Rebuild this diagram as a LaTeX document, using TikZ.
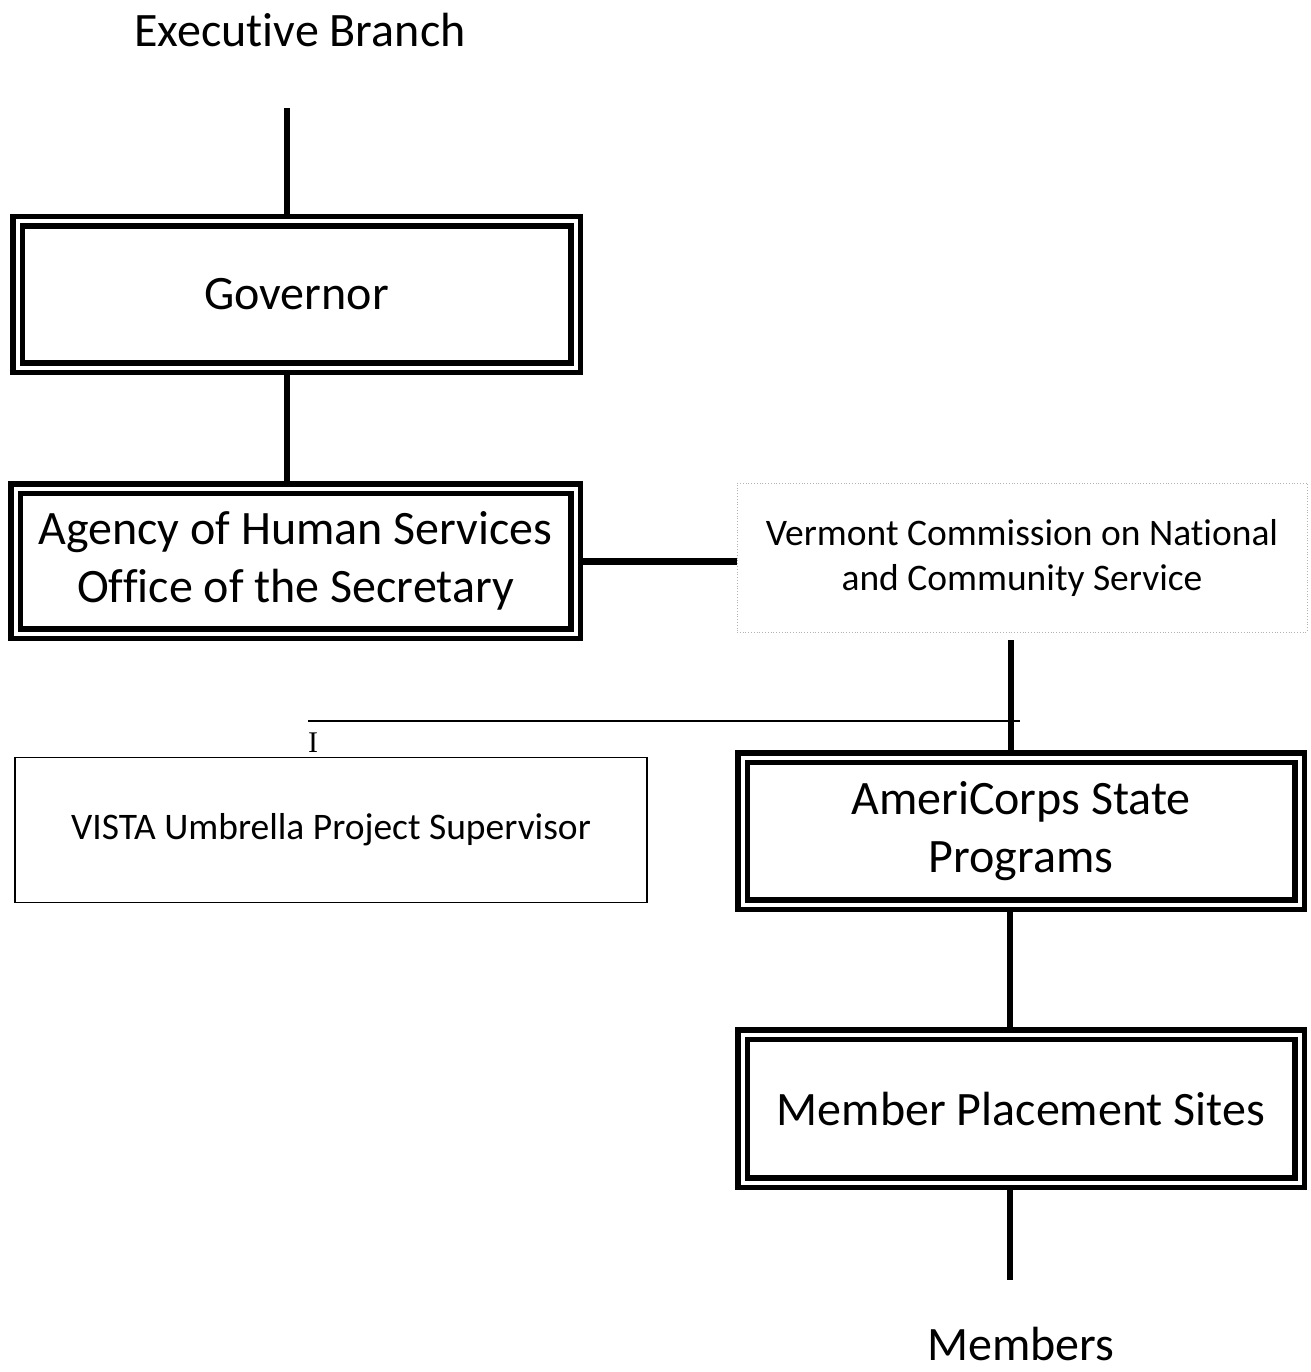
\documentclass[tikz,border=0pt]{standalone}
\usepackage{fontspec}
\setmainfont{Carlito}[RawFeature={-liga;-clig;-dlig;-calt}]
\newfontfamily\serifI{Liberation Serif}
\begin{document}
\begin{tikzpicture}[x=1pt,y=-1pt,
  dbox/.style={draw, double, line width=5.5pt, double distance=4pt,
    minimum width=558pt, minimum height=146pt, outer sep=7.5pt, inner sep=0pt,
    align=center, font=\fontsize{48}{58}\selectfont},
  tbox/.style={draw, line width=1.3pt, minimum width=632pt, minimum height=145pt,
    outer sep=0pt, inner sep=0pt, align=center, font=\fontsize{37.5}{45}\selectfont},
  fbox/.style={draw=black!30, dotted, line width=0.8pt, minimum width=570pt, minimum height=149pt,
    outer sep=0pt, inner sep=0pt, align=center, font=\fontsize{37.5}{45}\selectfont},
  label/.style={inner sep=0pt, font=\fontsize{48}{58}\selectfont},
  conn/.style={line width=6pt},
  thin/.style={line width=1.3pt}]
\useasboundingbox (0,0) rectangle (1310,1372);

% nodes
\node[label] (exec) at (300,30) {Executive Branch};
\node[dbox] (gov) at (296.5,294.5) {Governor};
\node[dbox, minimum width=560pt, minimum height=145pt] (ahs) at (295.5,561)
  {Agency of Human Services\\Office of the Secretary};
\node[fbox] (vcn) at (1022,557.5) {Vermont Commission on National\\and Community Service};
\node[tbox] (vista) at (331,830) {VISTA Umbrella Project Supervisor};
\node[dbox, minimum width=557pt, minimum height=147pt] (acs) at (1021,831)
  {AmeriCorps State\\Programs};
\node[dbox, minimum width=557pt, minimum height=148pt] (mps) at (1021,1108.5)
  {Member Placement Sites};
\node[label] (mem) at (1021,1344) {Members};
\node[inner sep=0pt, font=\serifI\fontsize{30}{36}\selectfont] (cur) at (313,743) {I};

% coordinates
\coordinate (e1) at (287,108);
\coordinate (v1) at (1011,640);
\coordinate (m1) at (1010,1280);
\coordinate (h1) at (308,721);
\coordinate (h2) at (1020,721);

% connectors
\draw[conn] (e1) -- (e1 |- gov.north);
\draw[conn] (gov.south -| e1) -- (ahs.north -| e1);
\draw[line width=7pt] (ahs.east) -- (ahs.east -| vcn.west);
\draw[line width=5.5pt] (v1) -- (v1 |- acs.north);
\draw[thin] (h1) -- (h2);
\draw[conn] (acs.south -| m1) -- (mps.north -| m1);
\draw[conn] (mps.south -| m1) -- (m1);
\end{tikzpicture}
\end{document}
